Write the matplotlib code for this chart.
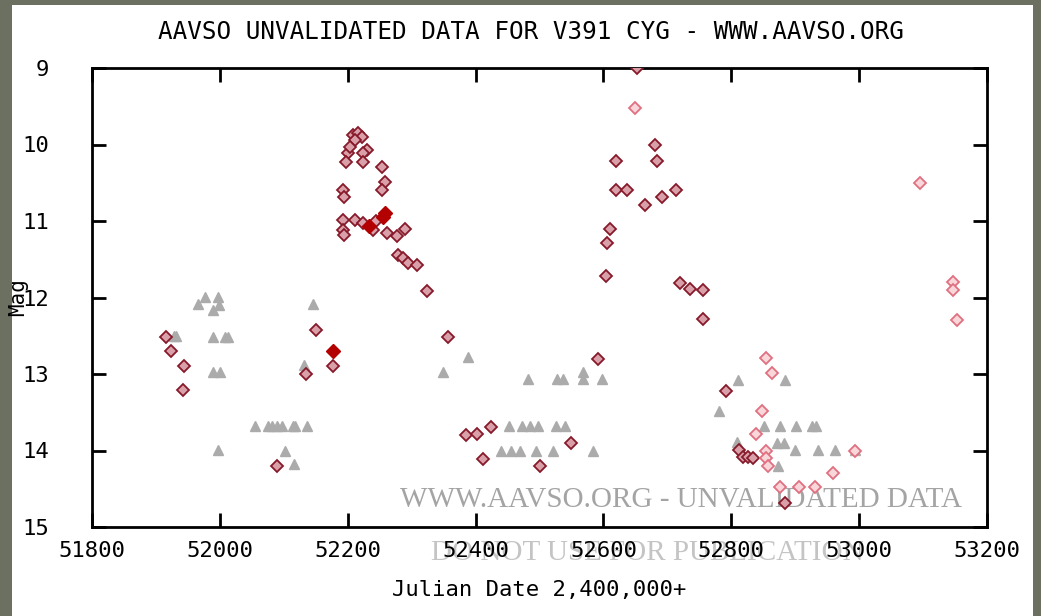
import numpy as np
import matplotlib.pyplot as plt
from matplotlib.patches import Rectangle

# light curve of V391 Cyg
obs_jd = [51916, 51924, 51944, 51942,
          52089, 52151, 52134, 52177,
          52208, 52216, 52222, 52211, 52230, 52224, 52200, 52198, 52203, 52224,
          52254, 52258, 52254, 52193, 52194, 52193, 52211, 52224, 52245, 52193,
          52194, 52240, 52261, 52277, 52290, 52279, 52286, 52294, 52308, 52324,
          52357, 52591, 52385, 52402, 52424, 52411, 52549, 52501,
          52652, 52681, 52684, 52620, 52620, 52637, 52713, 52691, 52665, 52610,
          52606, 52604, 52720, 52735, 52755, 52755,
          52792, 52812, 52818, 52826, 52834, 52884]
obs_mag = [12.52, 12.70, 12.90, 13.21,
           14.2, 12.42, 13.0, 12.9,
           9.88, 9.85, 9.90, 9.94, 10.07, 10.11, 10.11, 10.23, 10.03, 10.23,
           10.29, 10.49, 10.6, 10.6, 10.68, 10.99, 10.99, 11.02, 11.0, 11.12,
           11.18, 11.12, 11.16, 11.2, 11.1, 11.44, 11.49, 11.55, 11.58, 11.92,
           12.52, 12.8, 13.8, 13.78, 13.69, 14.11, 13.9, 14.2,
           9.0, 10.0, 10.22, 10.22, 10.6, 10.6, 10.6, 10.69, 10.79, 11.1,
           11.29, 11.72, 11.81, 11.89, 11.9, 12.28,
           13.22, 13.99, 14.08, 14.09, 14.1, 14.69]

pink_jd = [52649, 52854, 52864, 52848, 52838, 52854, 52855, 52857, 52959,
           52876, 52906, 52931, 52993, 53095, 53147, 53147, 53153]
pink_mag = [9.52, 12.79, 12.99, 13.49, 13.79, 14.0, 14.1, 14.2, 14.3,
            14.48, 14.48, 14.48, 14.0, 10.5, 11.8, 11.9, 12.3]

bold_jd = [52177, 52233, 52255, 52258]
bold_mag = [12.7, 11.06, 10.95, 10.9]

# fainter-than estimates
faint_jd = [51928, 51932, 51966, 51977, 51989, 51997, 51998, 51989, 52008, 52013,
            51989, 52000, 51997,
            52055, 52075, 52082, 52090, 52097, 52114, 52118, 52136, 52102, 52116,
            52146, 52131,
            52388, 52349, 52482, 52527, 52537, 52568, 52568, 52598,
            52452, 52472, 52485, 52498, 52526, 52540,
            52440, 52455, 52469, 52495, 52521, 52584,
            52810, 52884, 52780, 52851, 52876, 52902, 52927, 52932, 52872, 52883,
            52900, 52936, 52962, 52993, 52809, 52873]
faint_mag = [12.5, 12.5, 12.09, 11.99, 12.16, 11.99, 12.1, 12.52, 12.52, 12.52,
             12.97, 12.97, 13.99,
             13.68, 13.68, 13.68, 13.68, 13.68, 13.68, 13.68, 13.68, 14.0, 14.18,
             12.09, 12.88,
             12.78, 12.97, 13.07, 13.07, 13.07, 13.07, 12.97, 13.07,
             13.68, 13.68, 13.68, 13.68, 13.68, 13.68,
             14.0, 14.0, 14.0, 14.0, 14.0, 14.0,
             13.08, 13.08, 13.48, 13.68, 13.68, 13.68, 13.68, 13.68, 13.9, 13.9,
             13.99, 13.99, 13.99, 13.99, 13.89, 14.2]

x_ticks = [51800, 52000, 52200, 52400, 52600, 52800, 53000, 53200]
y_ticks = [9, 10, 11, 12, 13, 14, 15]

mono = 'DejaVu Sans Mono'

fig = plt.figure(figsize=(10.41, 6.16), dpi=100, facecolor='#6c7061')
# white slide panel behind the chart
fig.patches.append(Rectangle((12 / 1041, 0), 1021 / 1041, 611 / 616,
                             transform=fig.transFigure, facecolor='white',
                             edgecolor='none', zorder=-10))

ax = fig.add_axes([92 / 1041, 1 - 527 / 616, 895 / 1041, 459 / 616])
ax.set_facecolor('white')

# watermark
ax.text(0.658, 0.059, 'WWW.AAVSO.ORG - UNVALIDATED DATA', transform=ax.transAxes,
        ha='center', va='center', fontsize=21, family='Liberation Serif',
        color='#a4a4a4', zorder=1)
ax.text(0.62, -0.057, 'DO NOT USE FOR PUBLICATION', transform=ax.transAxes,
        ha='center', va='center', fontsize=21, family='Liberation Serif',
        color='#c4c4c4', zorder=0, clip_on=False)

ax.plot(faint_jd, faint_mag, linestyle='none', marker='^', markersize=7,
        color='#ababab', zorder=2)
ax.plot(obs_jd, obs_mag, linestyle='none', marker='D', markersize=6,
        markerfacecolor='#d9a0a9', markeredgecolor='#86192a',
        markeredgewidth=1.3, zorder=3)
ax.plot(pink_jd, pink_mag, linestyle='none', marker='D', markersize=6,
        markerfacecolor='#f8d6da', markeredgecolor='#e07080',
        markeredgewidth=1.3, zorder=3)
ax.plot(bold_jd, bold_mag, linestyle='none', marker='D', markersize=7,
        color='#b30000', zorder=4)

ax.set_xlim(51800, 53200)
ax.set_ylim(15, 9)
ax.set_xticks(x_ticks)
ax.set_yticks(y_ticks)
ax.set_xticklabels([str(t) for t in x_ticks], family=mono, fontsize=16)
ax.set_yticklabels([str(t) for t in y_ticks], family=mono, fontsize=16)
ax.tick_params(direction='in', length=10, width=2, top=True, right=True,
               labelcolor='black')
ax.tick_params(axis='x', pad=10)
ax.tick_params(axis='y', pad=31)
for s in ax.spines.values():
    s.set_linewidth(2)

ax.set_title('AAVSO UNVALIDATED DATA FOR V391 CYG - WWW.AAVSO.ORG',
             family=mono, fontsize=17.5, pad=21, x=0.49)
ax.set_xlabel('Julian Date 2,400,000+', family=mono, fontsize=16, labelpad=14)
ax.set_ylabel('Mag', family=mono, fontsize=15)
ax.yaxis.set_label_coords(-0.0715, 0.5)

fig.savefig('out.png', dpi=100, facecolor=fig.get_facecolor())
